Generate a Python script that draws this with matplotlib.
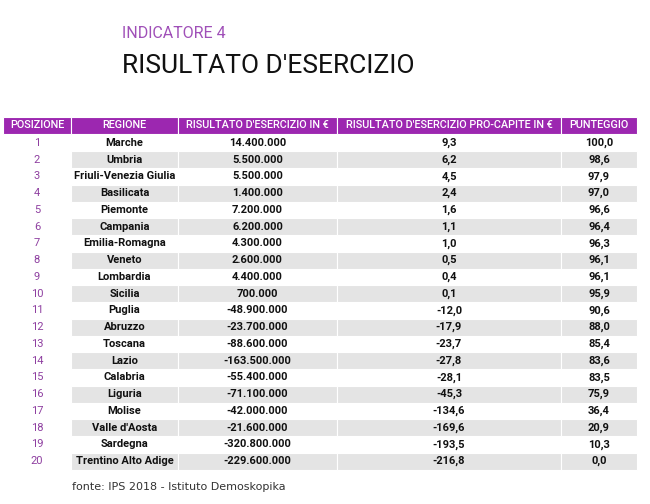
import matplotlib.pyplot as plt
from matplotlib.patches import Rectangle

posizioni = list(range(1, 21))
regioni = ['Marche', 'Umbria', 'Friuli-Venezia Giulia', 'Basilicata', 'Piemonte',
           'Campania', 'Emilia-Romagna', 'Veneto', 'Lombardia', 'Sicilia',
           'Puglia', 'Abruzzo', 'Toscana', 'Lazio', 'Calabria',
           'Liguria', 'Molise', "Valle d'Aosta", 'Sardegna', 'Trentino Alto Adige']
risultato = ['14.400.000', '5.500.000', '5.500.000', '1.400.000', '7.200.000',
             '6.200.000', '4.300.000', '2.600.000', '4.400.000', '700.000',
             '-48.900.000', '-23.700.000', '-88.600.000', '-163.500.000', '-55.400.000',
             '-71.100.000', '-42.000.000', '-21.600.000', '-320.800.000', '-229.600.000']
procapite = ['9,3', '6,2', '4,5', '2,4', '1,6', '1,1', '1,0', '0,5', '0,4', '0,1',
             '-12,0', '-17,9', '-23,7', '-27,8', '-28,1', '-45,3', '-134,6', '-169,6',
             '-193,5', '-216,8']
punteggio = ['100,0', '98,6', '97,9', '97,0', '96,6', '96,4', '96,3', '96,1', '96,1', '95,9',
             '90,6', '88,0', '85,4', '83,6', '83,5', '75,9', '36,4', '20,9', '10,3', '0,0']
intestazioni = ['POSIZIONE', 'REGIONE', "RISULTATO D'ESERCIZIO IN €",
                "RISULTATO D'ESERCIZIO PRO-CAPITE IN €", 'PUNTEGGIO']

FONT = ['Roboto', 'DejaVu Sans']
PURPLE = '#9c27b0'

fig = plt.figure(figsize=(6.5, 5.04), dpi=100)
ax = fig.add_axes([0, 0, 1, 1])
ax.set_xlim(0, 650)
ax.set_ylim(504, 0)
ax.axis('off')

# Titolo
ax.text(122, 33, 'INDICATORE 4', color='#a050b8', fontsize=11.5, family='Roboto',
        va='center')
ax.text(122, 66, "RISULTATO D'ESERCIZIO", color='#111111', fontsize=19,
        family=FONT, va='center')

# Tabella
bordi = [3, 71, 178, 337, 561, 637]
top = 117
h_head = 17
pitch = 16.75

for j, testo in enumerate(intestazioni):
    x0, x1 = bordi[j], bordi[j + 1]
    ax.add_patch(Rectangle((x0, top), x1 - x0, h_head, color=PURPLE, ec='white', lw=0.8))
    ax.text((x0 + x1) / 2, top + h_head / 2, testo, color='white', fontsize=7.8,
            family=FONT, ha='center', va='center', fontweight='medium')

for i in range(len(posizioni)):
    y0 = top + h_head + 0.5 + i * pitch
    yc = y0 + pitch / 2
    if i % 2 == 1:
        for j in range(1, 5):
            ax.add_patch(Rectangle((bordi[j], y0), bordi[j + 1] - bordi[j], pitch,
                                   color='#e4e4e4', ec='white', lw=0.8))
    valori = [str(posizioni[i]), regioni[i], risultato[i], procapite[i], punteggio[i]]
    for j, v in enumerate(valori):
        ax.text((bordi[j] + bordi[j + 1]) / 2, yc, v,
                color='#8e3fa0' if j == 0 else '#111111',
                fontsize=8, family=FONT, ha='center', va='center',
                fontweight='normal' if j == 0 else 'bold')

ax.text(72, 487, 'fonte: IPS 2018 - Istituto Demoskopika', color='#333333', fontsize=8,
        family='DejaVu Sans', va='center')

plt.savefig('out.png', dpi=100)
